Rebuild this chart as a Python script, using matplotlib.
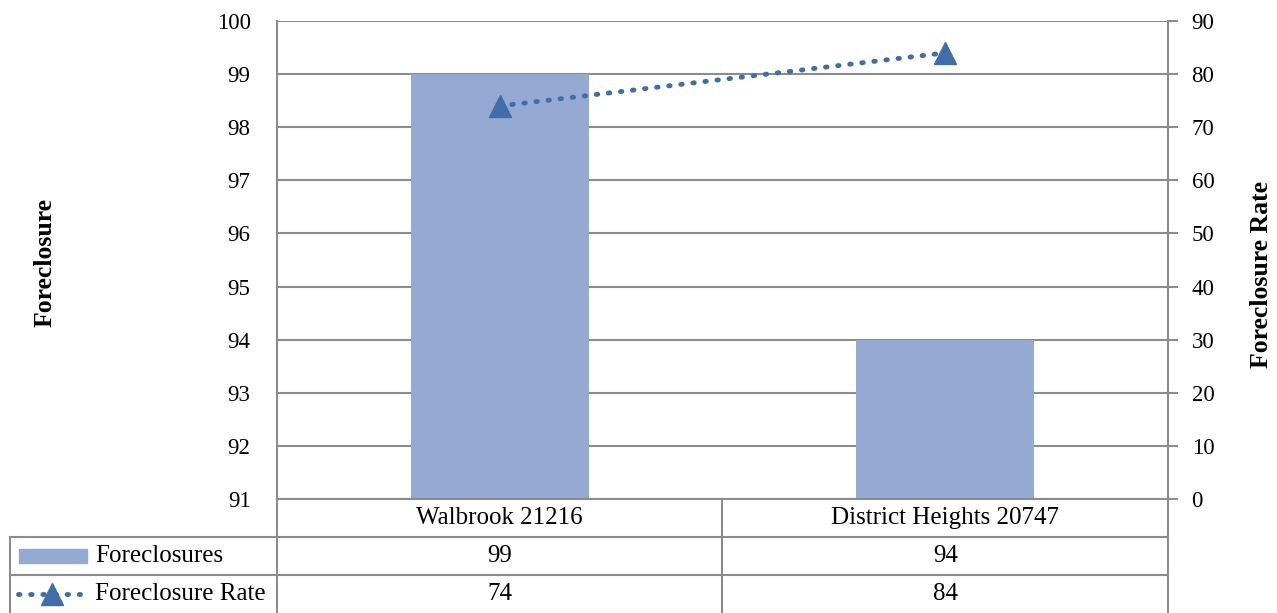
import matplotlib
matplotlib.use("Agg")
import matplotlib.pyplot as plt
from matplotlib.lines import Line2D
from matplotlib.patches import Rectangle
import matplotlib.transforms as mtransforms

# Data
categories = ["Walbrook 21216", "District Heights 20747"]
foreclosures = [99, 94]
foreclosure_rate = [74, 84]
series_names = ["Foreclosures", "Foreclosure Rate"]
left_ticks = [91, 92, 93, 94, 95, 96, 97, 98, 99, 100]
right_ticks = [0, 10, 20, 30, 40, 50, 60, 70, 80, 90]

plt.rcParams["font.family"] = ["Liberation Serif", "DejaVu Serif"]

W, H = 1277, 613
fig = plt.figure(figsize=(W / 100, H / 100), dpi=100)

bar_color = "#95aad2"
line_color = "#3f6ea8"
grid_color = "#8c8c8c"
fs_tick = 16.5
fs_table = 18

# Plot area in pixels
px0, px1 = 277, 1168
py_top, py_bot = 21, 499
ax = fig.add_axes([px0 / W, 1 - py_bot / H, (px1 - px0) / W, (py_bot - py_top) / H])
x = list(range(len(categories)))
ax.bar(x, [v - left_ticks[0] for v in foreclosures], bottom=left_ticks[0],
       width=0.4, color=bar_color, zorder=2)
ax.set_xlim(-0.5, len(categories) - 0.5)
ax.set_ylim(left_ticks[0], left_ticks[-1])
ax.set_yticks(left_ticks)
ax.set_yticklabels([str(t) for t in left_ticks], fontsize=fs_tick)
ax.tick_params(axis="y", length=0, pad=19)
ax.set_xticks([])
ax.grid(axis="y", color=grid_color, linewidth=1.5, zorder=0)
for side in ["top", "right", "bottom"]:
    ax.spines[side].set_visible(False)
ax.spines["left"].set_color(grid_color)
ax.spines["left"].set_linewidth(1.5)

ax2 = ax.twinx()
ax2.set_ylim(right_ticks[0], right_ticks[-1])
ax2.set_yticks(right_ticks)
ax2.set_yticklabels([str(t) for t in right_ticks], fontsize=fs_tick)
ax2.tick_params(axis="y", length=7, width=1.5, color=grid_color, pad=10, direction="out")
for side in ["top", "left", "bottom"]:
    ax2.spines[side].set_visible(False)
ax2.spines["right"].set_color(grid_color)
ax2.spines["right"].set_linewidth(1.5)
ax2.plot(x, foreclosure_rate, linestyle=(0, (0.3, 2.2)), dash_capstyle="round",
         linewidth=3.5, color=line_color, marker="^", markersize=16,
         markeredgecolor=line_color, zorder=3)

# Axis titles
fig.text(45 / W, 1 - 262 / H, "Foreclosure", rotation=90, ha="center", va="center",
         fontsize=18.5, fontweight="bold")
fig.text(1262 / W, 1 - 275 / H, "Foreclosure Rate", rotation=90, ha="center", va="center",
         fontsize=18.5, fontweight="bold")

# Data table under the plot
tf = fig.transFigure
def hline(x0, x1, y):
    fig.add_artist(Line2D([x0 / W, x1 / W], [1 - y / H, 1 - y / H], color=grid_color,
                          linewidth=1.5, transform=tf))
def vline(xp, y0, y1):
    fig.add_artist(Line2D([xp / W, xp / W], [1 - y0 / H, 1 - y1 / H], color=grid_color,
                          linewidth=1.5, transform=tf))

row_edges = [499, 537, 575, 613]
col_edges = [px0, (px0 + px1) / 2, px1]
hline(px0, px1, row_edges[0])
hline(10, px1, row_edges[1])
hline(10, px1, row_edges[2])
vline(10, row_edges[1], row_edges[3])
for cx in col_edges:
    vline(cx, row_edges[0], row_edges[3])

blend = mtransforms.blended_transform_factory(ax.transData, tf)
def row_y(i):
    return 1 - (row_edges[i] + row_edges[i + 1]) / 2 / H

for xi, cat in zip(x, categories):
    fig.text(xi, row_y(0), cat, transform=blend, ha="center", va="center", fontsize=fs_table)
for xi, v in zip(x, foreclosures):
    fig.text(xi, row_y(1), str(v), transform=blend, ha="center", va="center", fontsize=fs_table)
for xi, v in zip(x, foreclosure_rate):
    fig.text(xi, row_y(2), str(v), transform=blend, ha="center", va="center", fontsize=fs_table)

# Legend keys inside the table
fig.add_artist(Rectangle((19 / W, 1 - 563 / H), 68 / W, 14 / H, color=bar_color, transform=tf))
fig.add_artist(Line2D([18 / W, 80 / W], [row_y(2), row_y(2)], transform=tf,
                      linestyle=(0, (0.3, 2.2)), dash_capstyle="round", linewidth=3.5,
                      color=line_color))
fig.add_artist(Line2D([52 / W], [row_y(2)], transform=tf, marker="^", markersize=16,
                      color=line_color, linestyle="none"))
fig.text(95 / W, row_y(1), series_names[0], ha="left", va="center", fontsize=fs_table)
fig.text(95 / W, row_y(2), series_names[1], ha="left", va="center", fontsize=fs_table)

fig.savefig("out.png", dpi=100)
